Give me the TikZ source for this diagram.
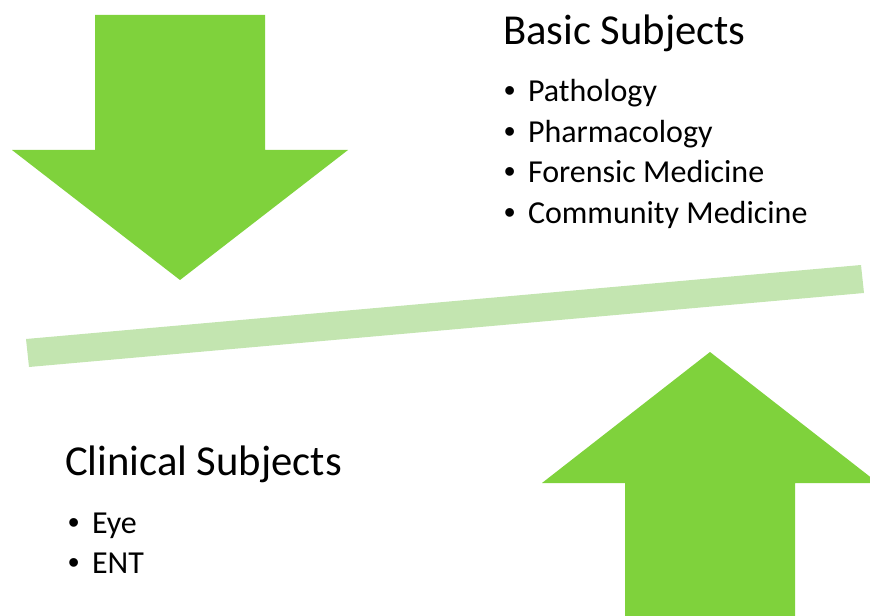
\documentclass[tikz,border=0pt]{standalone}
\usepackage{fontspec}
\setmainfont{Carlito}
\newfontfamily\bulletfont{Liberation Sans}
\usepackage{tikz}
\usetikzlibrary{positioning}

\definecolor{arrowgreen}{RGB}{127,210,60}
\definecolor{bargreen}{RGB}{195,229,176}

\newcommand{\bul}{\makebox[18pt][l]{\bulletfont •}}

\begin{document}
\begin{tikzpicture}[x=0.75pt, y=-0.75pt,
    every node/.style={inner sep=0pt, outer sep=0pt, anchor=base west},
    heading/.style={font=\fontsize{32}{38}\selectfont},
    item/.style={font=\fontsize{24}{29}\selectfont}]
\useasboundingbox (0,0) rectangle (870,616);
\clip (0,0) rectangle (870,616);

% big arrows
\fill[arrowgreen] (95,15) -- (265,15) -- (265,150) -- (348,150) -- (180,280)
    -- (12,150) -- (95,150) -- cycle;
\fill[arrowgreen] (625,616) -- (795,616) -- (795,483) -- (878,483) -- (710,352)
    -- (542,483) -- (625,483) -- cycle;

% slanted bar
\fill[bargreen] (26,339) -- (861,265) -- (864,293) -- (29,367) -- cycle;

% lists
\node[heading] (basic) at (503,45) {Basic Subjects};
\foreach \txt [count=\i] in {Pathology, Pharmacology, Forensic Medicine, Community Medicine}
    \node[item] (basic\i) at (504,{102+40.5*(\i-1)}) {\bul\txt};

\node[heading] (clinical) at (65,475) {Clinical Subjects};
\foreach \txt [count=\i] in {Eye, ENT}
    \node[item] (clinical\i) at (68,{533+40*(\i-1)}) {\bul\txt};
\end{tikzpicture}
\end{document}
